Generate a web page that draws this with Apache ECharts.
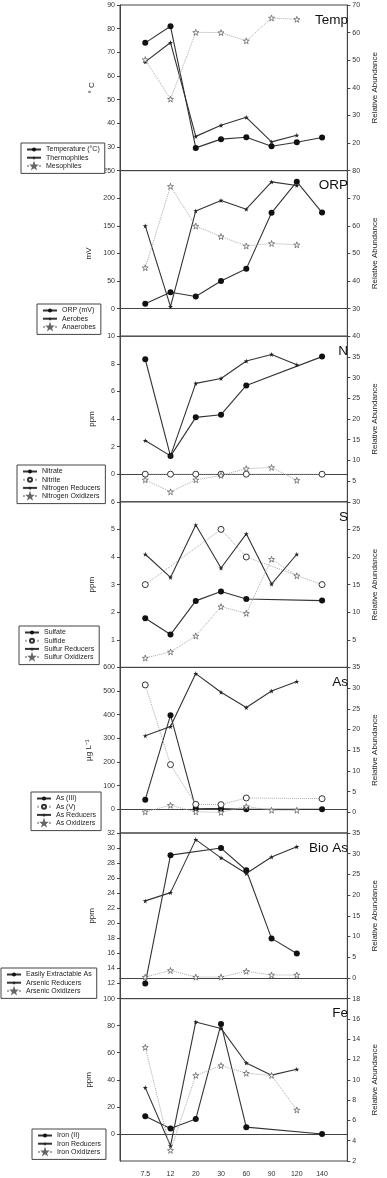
<!DOCTYPE html>
<html>
<head>
<meta charset="utf-8">
<script src="https://cdn.jsdelivr.net/npm/echarts@6/dist/echarts.min.js"></script>
<style>
  html, body { margin: 0; padding: 0; background: #fff; }
  #chart { width: 387px; height: 1178px; }
</style>
</head>
<body>
<div id="chart"></div>
<script>
// sample labels on the x axis
const samples = ['7.5', '12', '20', '30', '60', '90', '120', '140'];

// Temp
const temperature = [74, 81, 29.6, 33.3, 34.1, 30.3, 32, 34];
const thermophiles = [49.4, 56.4, 22.4, 26.4, 29.3, 20.4, 22.8, null];
const mesophiles = [50.2, 35.9, 60.1, 60, 57, 65.3, 64.8, null];

// ORP
const orp = [9, 29.5, 22, 50, 72, 173.5, 230, 174];
const aerobes = [60, 30.7, 65.4, 69.2, 66, 75.9, 74.6, null];
const anaerobes = [44.8, 74.3, 59.9, 56.1, 52.7, 53.6, 53.1, null];

// N
const nitrate = [8.33, 1.31, 4.12, 4.31, 6.43, null, null, 8.52];
const nitrite = [0, 0, 0, 0, 0, null, null, 0];
const nitrogenReducers = [14.8, 11.1, 28.6, 29.8, 34.0, 35.6, 33.1, null];
const nitrogenOxidizers = [5.3, 2.4, 5.3, 6.4, 8.0, 8.3, 5.2, null];

// S
const sulfate = [1.78, 1.19, 2.41, 2.75, 2.48, null, null, 2.42];
const sulfide = [3.0, null, null, 5.0, 4.0, null, null, 3.0];
const sulfurReducers = [20.5, 16.3, 25.8, 18.0, 24.2, 15.1, 20.5, null];
const sulfurOxidizers = [1.7, 2.8, 5.7, 11.0, 9.8, 19.6, 16.6, null];

// As
const asIII = [41, 398, 4.5, 3, 0, null, null, 0];
const asV = [526, 189, 21, 20, 48, null, null, 45];
const asReducers = [18.5, 20.7, 33.5, 29.0, 25.3, 29.3, 31.6, null];
const asOxidizers = [0.1, 1.7, 0.1, 0, 1.4, 0.5, 0.5, null];

// Bio As
const extractableAs = [12, 29.06, null, 30, 27.05, 18, 16, null];
const arsenicReducers = [18.6, 20.6, 33.4, 29.0, 25.2, 29.2, 31.7, null];
const arsenicOxidizers = [0.2, 1.8, 0.2, 0.2, 1.6, 0.7, 0.7, null];

// Fe
const ironII = [13.1, 4, 11, 81.2, 5, null, null, 0];
const ironReducers = [9.23, 3.5, 15.7, 15.06, 11.66, 10.46, 11.04, null];
const ironOxidizers = [13.2, 3.05, 10.43, 11.4, 10.65, 10.43, 7.03, null];

const font = 'Liberation Sans, Arial, sans-serif';
const star = 'path://M50,0 L61,35 L98,35 L68,57 L79,91 L50,70 L21,91 L32,57 L2,35 L39,35 Z';
// empty slot on both ends so the samples sit inside the frame
const xLabels = ['', ...samples, ''];
const pad = arr => [null, ...arr, null];

// series looks
const styles = {
  dot: { symbol: 'circle', symbolSize: 6, itemStyle: { color: '#111' },
         lineStyle: { color: '#333', width: 1.1 } },
  ring: { symbol: 'circle', symbolSize: 6, itemStyle: { color: '#fff', borderColor: '#333', borderWidth: 1 },
          lineStyle: { color: '#aaa', width: 1, type: 'dotted' } },
  star: { symbol: star, symbolSize: 5, itemStyle: { color: '#222' },
          lineStyle: { color: '#333', width: 1.1 } },
  openStar: { symbol: star, symbolSize: 6, itemStyle: { color: '#fff', borderColor: '#666', borderWidth: 0.8 },
              lineStyle: { color: '#aaa', width: 1, type: 'dotted' } }
};

const panels = [
  { title: 'Temp', unit: '° C', left: [20, 90, 10], right: [10, 70, 10], legend: [21, 143],
    series: [['Temperature (°C)', temperature, 'dot', 0], ['Thermophiles', thermophiles, 'star', 1], ['Mesophiles', mesophiles, 'openStar', 1]] },
  { title: 'ORP', unit: 'mV', left: [-50, 250, 50], right: [20, 80, 10], legend: [37, 304],
    series: [['ORP (mV)', orp, 'dot', 0], ['Aerobes', aerobes, 'star', 1], ['Anaerobes', anaerobes, 'openStar', 1]] },
  { title: 'N', unit: 'ppm', left: [-2, 10, 2], right: [0, 40, 5], legend: [17, 465],
    series: [['Nitrate', nitrate, 'dot', 0], ['Nitrite', nitrite, 'ring', 0], ['Nitrogen Reducers', nitrogenReducers, 'star', 1], ['Nitrogen Oxidizers', nitrogenOxidizers, 'openStar', 1]] },
  { title: 'S', unit: 'ppm', left: [0, 6, 1], right: [0, 30, 5], legend: [19, 626],
    series: [['Sulfate', sulfate, 'dot', 0], ['Sulfide', sulfide, 'ring', 0], ['Sulfur Reducers', sulfurReducers, 'star', 1], ['Sulfur Oxidizers', sulfurOxidizers, 'openStar', 1]] },
  { title: 'As', unit: 'µg L⁻¹', left: [-100, 600, 100], right: [-5, 35, 5], legend: [31, 792],
    series: [['As (III)', asIII, 'dot', 0], ['As (V)', asV, 'ring', 0], ['As Reducers', asReducers, 'star', 1], ['As Oxidizers', asOxidizers, 'openStar', 1]] },
  { title: 'Bio As', unit: 'ppm', left: [10, 32, 2], right: [-5, 35, 5], legend: [1, 968],
    series: [['Easily Extractable As', extractableAs, 'dot', 0], ['Arsenic Reducers', arsenicReducers, 'star', 1], ['Arsenic Oxidizers', arsenicOxidizers, 'openStar', 1]] },
  { title: 'Fe', unit: 'ppm', left: [-20, 100, 20], right: [2, 18, 2], legend: [32, 1129],
    series: [['Iron (II)', ironII, 'dot', 0], ['Iron Reducers', ironReducers, 'star', 1], ['Iron Oxidizers', ironOxidizers, 'openStar', 1]] }
];

const top0 = 5, panelH = 165.6;
const option = { animation: false, backgroundColor: '#fff', textStyle: { fontFamily: font },
  title: [], legend: [], grid: [], xAxis: [], yAxis: [], series: [] };

panels.forEach((p, i) => {
  const top = top0 + i * panelH;
  const last = i === panels.length - 1;
  option.grid.push({ left: 120, right: 30, top: top, height: panelH, show: true, borderColor: '#444', borderWidth: 1 });
  option.title.push({ text: p.title, right: 34, top: top + 3,
    textStyle: { fontFamily: font, fontSize: 13.5, fontWeight: 'normal', color: '#111' } });
  option.legend.push({
    orient: 'vertical', left: p.legend[0], top: p.legend[1],
    data: p.series.map(s => s[0]),
    itemWidth: 14, itemHeight: 5, itemGap: 1.2, padding: [3, 5, 4, 5],
    borderColor: '#444', borderWidth: 1, backgroundColor: '#fff',
    textStyle: { fontFamily: font, fontSize: 7, color: '#222' }
  });
  option.xAxis.push({
    type: 'category', gridIndex: i, data: xLabels, boundaryGap: false,
    axisLine: { show: true, lineStyle: { color: '#444' } },
    axisTick: { show: false },
    axisLabel: { show: last, fontSize: 7, color: '#333', margin: 10, interval: 0 },
    splitLine: { show: false }
  });
  const axisCommon = {
    type: 'value', gridIndex: i,
    axisLine: { show: true, lineStyle: { color: '#444' } },
    axisTick: { show: true, length: 3, lineStyle: { color: '#444' } },
    splitLine: { show: false },
    nameLocation: 'middle', nameRotate: 90,
    nameTextStyle: { fontFamily: font, fontSize: 8, color: '#222' }
  };
  option.yAxis.push(Object.assign({}, axisCommon, {
    position: 'left', min: p.left[0], max: p.left[1], interval: p.left[2],
    name: p.unit, nameGap: 24,
    axisLabel: { fontSize: 7, color: '#333', margin: 5, showMinLabel: false, showMaxLabel: true }
  }));
  option.yAxis.push(Object.assign({}, axisCommon, {
    position: 'right', min: p.right[0], max: p.right[1], interval: p.right[2],
    name: 'Relative Abundance', nameGap: 22,
    axisLabel: { fontSize: 7, color: '#333', margin: 5, showMinLabel: last, showMaxLabel: true }
  }));
  p.series.forEach(([name, values, look, side]) => {
    option.series.push(Object.assign({
      name: name, type: 'line', xAxisIndex: i, yAxisIndex: i * 2 + side,
      data: pad(values), connectNulls: true
    }, styles[look]));
  });
});

const chart = echarts.init(document.getElementById('chart'), null, { renderer: 'canvas' });
chart.setOption(option);
</script>
</body>
</html>
